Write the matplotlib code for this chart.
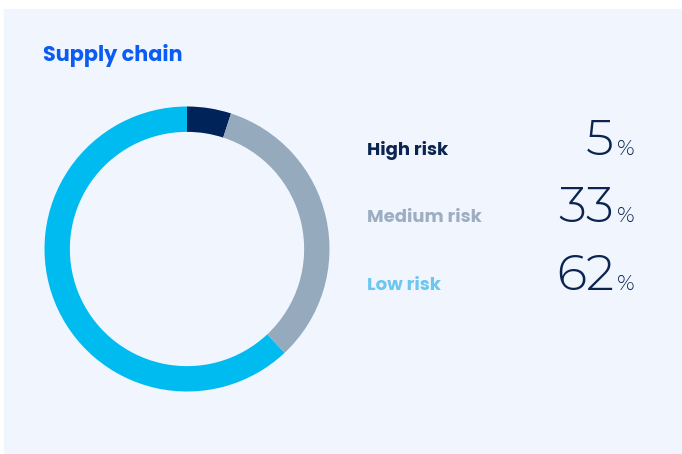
import matplotlib.pyplot as plt

# data
labels = ['High risk', 'Medium risk', 'Low risk']
shares = [5, 33, 62]
slice_colors = ['#00235A', '#95AABD', '#00BBEF']
label_colors = ['#0B2550', '#9DAEC2', '#6CC6F0']
title = 'Supply chain'

NUM_FONT = 'Montserrat Alternates'
TXT_FONT = 'Poppins'

W, H = 682, 454
fig = plt.figure(figsize=(W / 100, H / 100), dpi=100)
fig.patch.set_facecolor('white')

# card background + text layer in pixel coords (y down)
bg = fig.add_axes([0, 0, 1, 1])
bg.set_xlim(0, W)
bg.set_ylim(H, 0)
bg.axis('off')
bg.add_patch(plt.Rectangle((4, 9), W - 4, H - 9, color='#F1F6FE', zorder=0))

bg.text(43, 61, title, fontsize=15, fontweight='bold', color='#0A5CF5',
        family=TXT_FONT, va='baseline', ha='left')

baselines = [155, 222, 289.5]
for lab, val, col, yb in zip(labels, shares, label_colors, baselines):
    bg.text(367, yb, lab, fontsize=13, fontweight='bold', color=col,
            family=TXT_FONT, va='baseline', ha='left')
    bg.text(614, yb, str(val), fontsize=36, fontweight=300, color='#0B2550',
            family=NUM_FONT, va='baseline', ha='right')
    bg.text(635, yb, '%', fontsize=15.5, fontweight=300, color='#0B2550',
            family=NUM_FONT, va='baseline', ha='right')

# donut
cx, cy, r = 187, 249, 142.5
ax = fig.add_axes([(cx - r) / W, (H - cy - r) / H, 2 * r / W, 2 * r / H])
ax.pie(shares, colors=slice_colors, startangle=90, counterclock=False,
       radius=1, wedgeprops=dict(width=0.178, linewidth=0))
ax.set_xlim(-1, 1)
ax.set_ylim(-1, 1)
ax.axis('off')

fig.savefig('out.png', dpi=100)
